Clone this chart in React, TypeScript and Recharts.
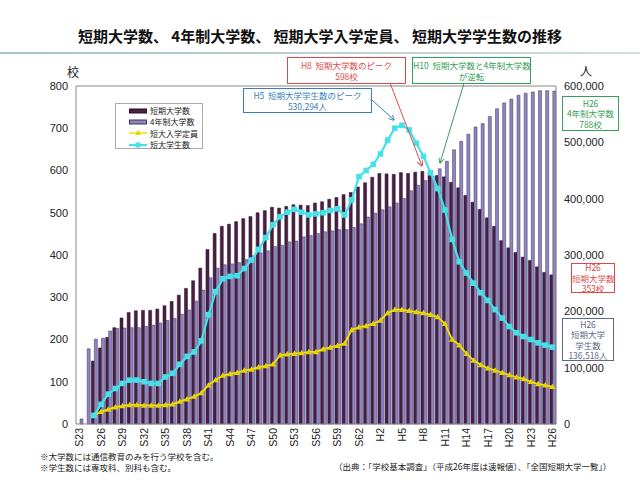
import { ComposedChart, Bar, Line, XAxis, YAxis, ReferenceLine } from 'recharts';

// 年度（S23〜H26）
const years = [
  'S23', 'S24', 'S25', 'S26', 'S27', 'S28', 'S29', 'S30', 'S31', 'S32',
  'S33', 'S34', 'S35', 'S36', 'S37', 'S38', 'S39', 'S40', 'S41', 'S42',
  'S43', 'S44', 'S45', 'S46', 'S47', 'S48', 'S49', 'S50', 'S51', 'S52',
  'S53', 'S54', 'S55', 'S56', 'S57', 'S58', 'S59', 'S60', 'S61', 'S62',
  'S63', 'H1', 'H2', 'H3', 'H4', 'H5', 'H6', 'H7', 'H8', 'H9',
  'H10', 'H11', 'H12', 'H13', 'H14', 'H15', 'H16', 'H17', 'H18', 'H19',
  'H20', 'H21', 'H22', 'H23', 'H24', 'H25', 'H26',
];

// 短期大学数（校）
const juniorColleges = [
  null, null, 149, 180, 205, 228, 251, 264, 268, 269,
  269, 272, 280, 290, 305, 321, 339, 369, 413, 451,
  468, 473, 479, 486, 491, 500, 505, 513, 511, 515,
  519, 518, 517, 523, 526, 532, 536, 543, 548, 561,
  571, 584, 593, 592, 591, 595, 593, 596, 598, 595,
  588, 585, 572, 559, 541, 525, 508, 488, 468, 434,
  417, 406, 395, 387, 372, 359, 353,
];

// 4年制大学数（校）
const universities = [
  12, 178, 201, 203, 220, 226, 227, 228, 228, 231,
  234, 239, 245, 250, 260, 270, 291, 317, 346, 369,
  377, 379, 382, 389, 398, 405, 410, 420, 423, 431,
  433, 443, 446, 451, 455, 457, 460, 460, 465, 474,
  490, 499, 507, 514, 523, 534, 552, 565, 576, 586,
  604, 622, 649, 669, 686, 703, 711, 728, 746, 760,
  769, 778, 783, 786, 789, 789, 788,
];

// 短大入学定員（人）
const capacity = [
  null, null, 15000, 22000, 26000, 30000, 32000, 34000, 34000, 33000,
  33000, 33000, 34000, 35000, 40000, 44000, 49000, 55000, 69000, 78000,
  86000, 89000, 91000, 95000, 97000, 101000, 103000, 106000, 122000, 124000,
  125000, 126000, 128000, 128000, 133000, 136000, 139000, 143000, 167000, 172000,
  174000, 178000, 184000, 197000, 203000, 203000, 201000, 199000, 197000, 194000,
  190000, 178000, 150000, 140000, 125000, 113000, 105000, 99000, 95000, 91000,
  87000, 83000, 80000, 75000, 71000, 69000, 66000,
];

// 短大学生数（人）
const students = [
  null, null, 15098, 35000, 53000, 63000, 72000, 77885, 78000, 75000,
  72000, 72000, 83457, 90000, 106000, 120000, 128000, 147563, 194000, 235000,
  258000, 262000, 263219, 276000, 291000, 310000, 331000, 353782, 368000, 376000,
  381000, 376000, 371124, 373000, 375000, 379000, 382000, 371095, 398000, 439000,
  450000, 461000, 479389, 504000, 525000, 530294, 522000, 498516, 475000, 446000,
  418000, 380000, 327680, 288000, 268000, 250000, 233000, 219355, 203000, 188000,
  173000, 162000, 155273, 150000, 144000, 140000, 136518,
];

const leftTicks = [0, 100, 200, 300, 400, 500, 600, 700, 800];
const rightTicks = [0, 100000, 200000, 300000, 400000, 500000, 600000];

const data = years.map((year, i) => ({
  year,
  junior: juniorColleges[i],
  univ: universities[i],
  capacity: capacity[i],
  students: students[i],
}));

const JP = '"Noto Sans CJK JP", "Noto Sans", sans-serif';
const NUM = '"Liberation Sans", Arial, sans-serif';

const C = {
  junior: '#4a1f44',
  juniorEdge: '#2a0f26',
  univ: '#8e86bc',
  univEdge: '#3a3166',
  yellow: '#f4e400',
  cyan: '#44e2e8',
  red: '#e04848',
  green: '#36a05a',
  blue: '#3a80b8',
  slate: '#5a6a88',
};

const YearTick = (props: any) => {
  const { x, y, payload } = props;
  return (
    <text
      transform={`translate(${x},${y - 4}) rotate(-90)`}
      dy="0.35em"
      textAnchor="end"
      fontSize={10.5}
      fontFamily={NUM}
      fill="#222"
    >
      {payload.value}
    </text>
  );
};

const triangleDot = (p: any) => {
  const { cx, cy, index } = p;
  if (cx == null || cy == null || p.value == null) return <g key={`t${index}`} />;
  return (
    <path
      key={`t${index}`}
      d={`M${cx},${cy - 3.2} L${cx + 3.2},${cy + 2.3} L${cx - 3.2},${cy + 2.3} Z`}
      fill="#e6d400"
    />
  );
};

const squareDot = (p: any) => {
  const { cx, cy, index } = p;
  if (cx == null || cy == null || p.value == null) return <g key={`s${index}`} />;
  return <rect key={`s${index}`} x={cx - 2.8} y={cy - 2.8} width={5.6} height={5.6} fill={C.cyan} />;
};

function Callout({ left, top, width, height, color, text, lines }: any) {
  return (
    <div
      style={{
        position: 'absolute',
        left,
        top,
        width,
        height,
        boxSizing: 'border-box',
        border: `1px solid ${color}`,
        background: '#fff',
        color: text,
        fontFamily: JP,
        fontSize: 8.5,
        lineHeight: '10.5px',
        textAlign: 'center',
        display: 'flex',
        flexDirection: 'column',
        justifyContent: 'center',
      }}
    >
      {lines.map((l: string) => (
        <div key={l} style={{ whiteSpace: 'pre' }}>{l}</div>
      ))}
    </div>
  );
}

function LegendBox() {
  const row = { display: 'flex', alignItems: 'center', height: 11.3 } as const;
  const label = { marginLeft: 3, fontSize: 8, color: '#222', fontFamily: JP, whiteSpace: 'nowrap' } as const;
  return (
    <div
      style={{
        position: 'absolute',
        left: 115,
        top: 103,
        width: 88,
        height: 46,
        boxSizing: 'border-box',
        border: '1px solid #aaa',
        background: '#fff',
        padding: '1px 0 0 13px',
      }}
    >
      <div style={row}>
        <svg width={18} height={6}><rect x={0.5} y={1} width={17} height={4} fill={C.junior} stroke={C.juniorEdge} /></svg>
        <span style={label}>短期大学数</span>
      </div>
      <div style={row}>
        <svg width={18} height={6}><rect x={0.5} y={1} width={17} height={4} fill={C.univ} stroke={C.univEdge} /></svg>
        <span style={label}>4年制大学数</span>
      </div>
      <div style={row}>
        <svg width={18} height={8}>
          <line x1={0} y1={4} x2={18} y2={4} stroke={C.yellow} strokeWidth={1.5} />
          <path d="M9,1 L12,6 L6,6 Z" fill="#e6d400" />
        </svg>
        <span style={label}>短大入学定員</span>
      </div>
      <div style={row}>
        <svg width={18} height={8}>
          <line x1={0} y1={4} x2={18} y2={4} stroke={C.cyan} strokeWidth={2} />
          <rect x={6.5} y={1.5} width={5} height={5} fill={C.cyan} />
        </svg>
        <span style={label}>短大学生数</span>
      </div>
    </div>
  );
}

export default function App() {
  return (
    <div style={{ position: 'absolute', left: 0, top: 0, width: 640, height: 480, background: '#fff', overflow: 'hidden' }}>
      <div
        style={{
          position: 'absolute',
          left: 0,
          top: 25,
          width: 640,
          textAlign: 'center',
          fontFamily: JP,
          fontWeight: 700,
          fontSize: 15,
          color: '#111',
          whiteSpace: 'pre',
        }}
      >
        短期大学数、 4年制大学数、 短期大学入学定員、 短期大学学生数の推移
      </div>
      <div
        style={{
          position: 'absolute',
          left: 0,
          top: 52,
          width: 640,
          height: 2,
          background: 'linear-gradient(to right, #a8c2c2, #cfdede)',
        }}
      />

      <ComposedChart
        width={640}
        height={480}
        data={data}
        margin={{ top: 86, right: 0, bottom: 0, left: 0 }}
        barGap={0}
        style={{ position: 'absolute', left: 0, top: 0 }}
      >
        <XAxis
          dataKey="year"
          height={56}
          interval={2}
          tickLine={false}
          axisLine={{ stroke: '#888' }}
          tick={<YearTick />}
        />
        <YAxis
          yAxisId="left"
          width={76}
          domain={[0, 800]}
          ticks={leftTicks}
          tickLine={false}
          axisLine={{ stroke: '#888' }}
          tick={{ fontSize: 11, fill: '#222', fontFamily: NUM }}
        />
        <YAxis
          yAxisId="right"
          orientation="right"
          width={84}
          domain={[0, 600000]}
          ticks={rightTicks}
          tickLine={false}
          axisLine={{ stroke: '#888' }}
          tick={{ fontSize: 11, fill: '#222', fontFamily: NUM, textAnchor: 'start' }}
          tickFormatter={(v: number) => v.toLocaleString('en-US')}
        />
        <ReferenceLine yAxisId="left" y={800} stroke="#888" />
        <Bar
          yAxisId="left"
          dataKey="junior"
          name="短期大学数"
          barSize={3}
          fill={C.junior}
          stroke={C.juniorEdge}
          strokeWidth={0.5}
          isAnimationActive={false}
        />
        <Bar
          yAxisId="left"
          dataKey="univ"
          name="4年制大学数"
          barSize={3}
          fill={C.univ}
          stroke={C.univEdge}
          strokeWidth={0.5}
          isAnimationActive={false}
        />
        <Line
          yAxisId="right"
          dataKey="capacity"
          name="短大入学定員"
          stroke={C.yellow}
          strokeWidth={1.8}
          dot={triangleDot}
          activeDot={false}
          isAnimationActive={false}
        />
        <Line
          yAxisId="right"
          dataKey="students"
          name="短大学生数"
          stroke={C.cyan}
          strokeWidth={2.2}
          dot={squareDot}
          activeDot={false}
          isAnimationActive={false}
        />
      </ComposedChart>

      <div style={{ position: 'absolute', left: 67, top: 63, fontFamily: JP, fontSize: 12, color: '#222' }}>校</div>
      <div style={{ position: 'absolute', left: 580, top: 62, fontFamily: JP, fontSize: 12, color: '#222' }}>人</div>

      <LegendBox />

      <svg width={640} height={480} style={{ position: 'absolute', left: 0, top: 0, pointerEvents: 'none' }}>
        <defs>
          {[['r', C.red], ['g', C.green], ['b', C.blue]].map(([id, col]) => (
            <marker key={id} id={`ah-${id}`} viewBox="0 0 10 10" refX={9} refY={5} markerWidth={6} markerHeight={6} orient="auto">
              <path d="M0,0 L10,5 L0,10" fill="none" stroke={col} strokeWidth={1.6} />
            </marker>
          ))}
        </defs>
        <line x1={372} y1={100} x2={394} y2={120} stroke={C.blue} strokeWidth={1} markerEnd="url(#ah-b)" />
        <line x1={390} y1={83} x2={422} y2={166} stroke={C.red} strokeWidth={1} markerEnd="url(#ah-r)" />
        <line x1={464} y1={83} x2={440} y2={163} stroke={C.green} strokeWidth={1} markerEnd="url(#ah-g)" />
      </svg>

      <Callout left={287} top={57} width={119} height={27} color={C.red} text={C.red} lines={['H8  短期大学数のピーク', '598校']} />
      <Callout left={412} top={57} width={119} height={27} color={C.green} text={C.green} lines={['H10  短期大学数と4年制大学数', 'が逆転']} />
      <Callout left={243} top={88} width={129} height={25} color={C.blue} text={C.blue} lines={['H5  短期大学学生数のピーク', '530,294人']} />
      <Callout left={562} top={96} width={57} height={35} color={C.green} text={C.green} lines={['H26', '4年制大学数', '788校']} />
      <Callout left={571} top={263} width={44} height={30} color={C.red} text={C.red} lines={['H26', '短期大学数', '353校']} />
      <Callout left={562} top={318} width={52} height={43} color={C.slate} text={C.slate} lines={['H26', '短期大学', '学生数', '136,518人']} />

      <div style={{ position: 'absolute', left: 40, top: 451, fontFamily: JP, fontSize: 8.5, lineHeight: '10px', color: '#222', whiteSpace: 'pre' }}>
        ※大学数には通信教育のみを行う学校を含む。
      </div>
      <div style={{ position: 'absolute', left: 40, top: 462, fontFamily: JP, fontSize: 8.5, lineHeight: '10px', color: '#222', whiteSpace: 'pre' }}>
        ※学生数には専攻科、別科も含む。
      </div>
      <div style={{ position: 'absolute', left: 334, top: 461, fontFamily: JP, fontSize: 8.5, lineHeight: '10px', color: '#222', whiteSpace: 'pre' }}>
        （出典：「学校基本調査」（平成26年度は速報値）、「全国短期大学一覧」）
      </div>
    </div>
  );
}
